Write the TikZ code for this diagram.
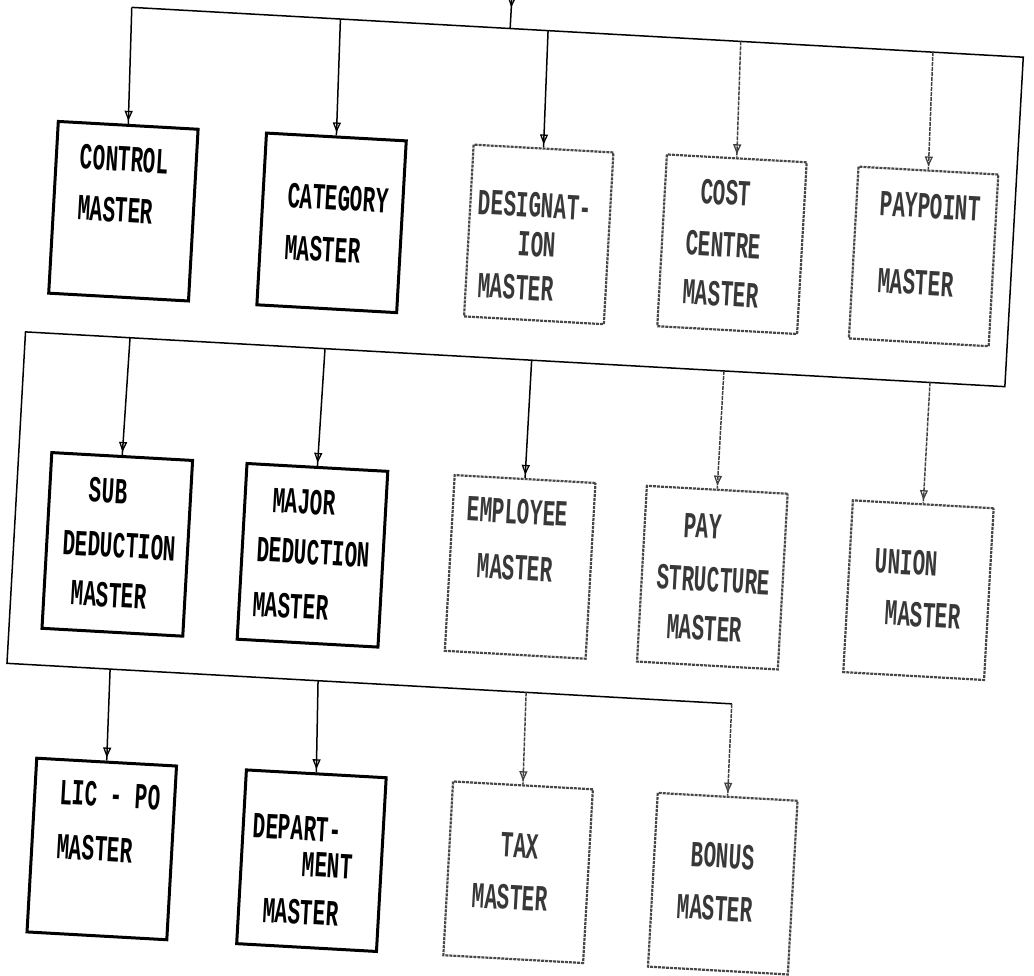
\documentclass[tikz,border=0pt]{standalone}
\usepackage{fontspec}
\usepackage{graphicx}
\newfontfamily\monof{Liberation Mono}
\usetikzlibrary{arrows.meta,decorations.markings}
\newcommand{\tx}[1]{\scalebox{1}[1.75]{#1}}
\begin{document}
\begin{tikzpicture}[x=1pt,y=-1pt,
  sbox/.style={draw=black, line width=3pt, inner sep=0pt, transform shape},
  fbox/.style={draw=black!72, line width=2.2pt, dash pattern=on 3pt off 1pt, inner sep=0pt, transform shape},
  rowa/.style={minimum width=140pt, minimum height=172pt},
  rowb/.style={minimum width=141pt, minimum height=176pt},
  rowc/.style={minimum width=140pt, minimum height=174pt},
  lbl/.style={font=\monof\bfseries\fontsize{21}{24}\selectfont, inner sep=0pt, transform shape},
  flbl/.style={lbl, text=black!78},
  conn/.style={line width=1.5pt},
  drop/.style={conn, postaction={decorate}, decoration={markings,
     mark=at position -3pt with {\arrow{Triangle[open, length=10pt, width=8pt, line width=1.3pt]}}}},
  fdrop/.style={drop, draw=black!75, dash pattern=on 4pt off 1pt},
  entry/.style={conn, postaction={decorate}, decoration={markings,
     mark=at position 24pt with {\arrow{Triangle[open, length=9pt, width=7pt, line width=1.3pt]}}}}
]
\useasboundingbox (0,0) rectangle (1034,976);
\begin{scope}[rotate=-3.2]
% ---------- boxes ----------
\node[sbox, rowa] (ctrl) at (135,204) {};
\node[sbox, rowa] (cat)  at (343.5,204) {};
\node[fbox, rowa] (desg) at (551,204) {};
\node[fbox, rowa] (cost) at (744.5,203) {};
\node[fbox, rowa] (payp) at (936.5,204.5) {};
\node[sbox, rowb] (sub)  at (147.5,537) {};
\node[sbox, rowb] (maj)  at (343,537) {};
\node[fbox, rowb] (emp)  at (551,537) {};
\node[fbox, rowb] (pays) at (743.5,537) {};
\node[fbox, rowb, minimum height=172pt] (uni) at (950,538) {};
\node[sbox, rowc] (lic)  at (149,842) {};
\node[sbox, rowc] (dep)  at (359,842) {};
\node[fbox, rowc] (tax)  at (566,842) {};
\node[fbox, rowc] (bon)  at (771,842) {};
% ---------- labels ----------
\node[lbl, anchor=west] (ctrl1) at (89,152) {\tx{CONTROL}};
\node[lbl, anchor=west] (ctrl2) at (89,203) {\tx{MASTER}};
\node[lbl, anchor=west] (cat1) at (298,179) {\tx{CATEGORY}};
\node[lbl, anchor=west] (cat2) at (298,231) {\tx{MASTER}};
\node[flbl, anchor=west] (desg1) at (489,175) {\tx{DESIGNAT-}};
\node[flbl] (desg2) at (550,214) {\tx{ION}};
\node[flbl, anchor=west] (desg3) at (493,258) {\tx{MASTER}};
\node[flbl] (cost1) at (735.6,152) {\tx{COST}};
\node[flbl] (cost2) at (736,204) {\tx{CENTRE}};
\node[flbl] (cost3) at (736,253) {\tx{MASTER}};
\node[flbl, anchor=west] (payp1) at (890,154) {\tx{PAYPOINT}};
\node[flbl, anchor=west] (payp2) at (892,231) {\tx{MASTER}};
\node[lbl] (sub1) at (135.7,484) {\tx{SUB}};
\node[lbl] (sub2) at (149.7,538) {\tx{DEDUCTION}};
\node[lbl] (sub3) at (142,588) {\tx{MASTER}};
\node[lbl, anchor=west] (maj1) at (300,484) {\tx{MAJOR}};
\node[lbl, anchor=west] (maj2) at (287,534) {\tx{DEDUCTION}};
\node[lbl, anchor=west] (maj3) at (286,589) {\tx{MASTER}};
\node[flbl] (emp1) at (545.3,482) {\tx{EMPLOYEE}};
\node[flbl] (emp2) at (546,538) {\tx{MASTER}};
\node[flbl] (pays1) at (731,486) {\tx{PAY}};
\node[flbl] (pays2) at (744.7,539) {\tx{STRUCTURE}};
\node[flbl] (pays3) at (738.5,588) {\tx{MASTER}};
\node[flbl, anchor=west] (uni1) at (905,511) {\tx{UNION}};
\node[flbl, anchor=west] (uni2) at (918,562.5) {\tx{MASTER}};
\node[lbl, anchor=west] (lic1) at (104,787.5) {\tx{LIC - PO}};
\node[lbl, anchor=west] (lic2) at (104,842) {\tx{MASTER}};
\node[lbl, anchor=west] (dep1) at (299,810) {\tx{DEPART-}};
\node[lbl, anchor=east] (dep2) at (400.5,846) {\tx{MENT}};
\node[lbl, anchor=west] (dep3) at (313,894) {\tx{MASTER}};
\node[flbl] (tax1) at (566.4,815.6) {\tx{TAX}};
\node[flbl] (tax2) at (559.3,867.5) {\tx{MASTER}};
\node[flbl] (bon1) at (769.6,814.3) {\tx{BONUS}};
\node[flbl] (bon2) at (764.6,867) {\tx{MASTER}};
% ---------- bus coordinates ----------
\coordinate (src) at (511,-45);
\coordinate (jin) at (511,0);
\coordinate (c1) at (132,0);
\coordinate (jr) at (1025,0);
\coordinate (jr2) at (1025,330);
\coordinate (jl2) at (44,330);
\coordinate (jl3) at (44,662);
\coordinate (jb) at (770,662);
\coordinate (j12) at (341,0);
\coordinate (j13) at (549,0);
\coordinate (j14) at (742,0);
\coordinate (j15) at (934.5,0);
\coordinate (j21) at (148.7,330);
\coordinate (j22) at (344,330);
\coordinate (j23) at (551,330);
\coordinate (j24) at (743.6,330);
\coordinate (j25) at (950,330);
\coordinate (j31) at (147.3,662);
\coordinate (j32) at (355.6,662);
\coordinate (j33) at (564,662);
% ---------- connectors ----------
\draw[entry] (src) -- (jin);
\draw[conn] (c1) -- (jr) -- (jr2) -- (jl2) -- (jl3) -- (jb);
\draw[drop] (c1) -- (ctrl.north);
\draw[drop] (j12) -- (cat.north);
\draw[drop] (j13) -- (desg.north);
\draw[fdrop] (j14) -- (cost.north);
\draw[fdrop] (j15) -- (payp.north);
\draw[drop] (j21) -- (sub.north);
\draw[drop] (j22) -- (maj.north);
\draw[drop] (j23) -- (emp.north);
\draw[fdrop] (j24) -- (pays.north);
\draw[fdrop] (j25) -- (uni.north);
\draw[drop] (j31) -- (lic.north);
\draw[drop] (j32) -- (dep.north);
\draw[fdrop] (j33) -- (tax.north);
\draw[fdrop] (jb) -- (bon.north);
\end{scope}
\end{tikzpicture}
\end{document}
